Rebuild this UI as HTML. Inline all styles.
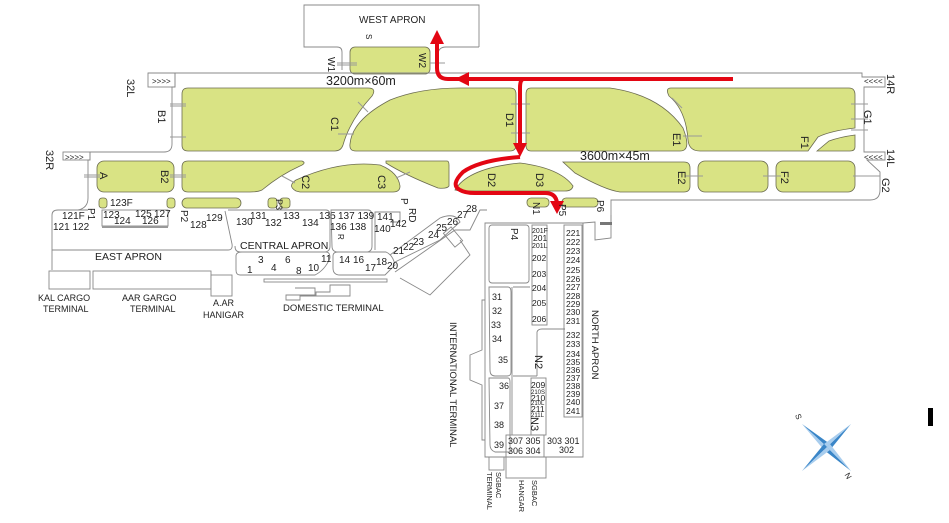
<!DOCTYPE html>
<html><head><meta charset="utf-8"><style>
html,body{margin:0;padding:0;background:#fff}
svg{display:block}
text{font-family:"Liberation Sans",sans-serif;fill:#222}
.g{fill:#d9e384;stroke:#6b6b50;stroke-width:.8}
.o{fill:none;stroke:#888;stroke-width:.9}
.w{fill:#fff;stroke:#888;stroke-width:.9}
.r{fill:none;stroke:#e30613;stroke-width:4}
.rf{fill:#e30613}
.h{stroke:#999;stroke-width:1}
</style></head><body>
<svg width="949" height="523" viewBox="0 0 949 523" xmlns="http://www.w3.org/2000/svg" font-size="10">
<!-- West apron -->
<path class="o" d="M342,70 V52 Q342,47 337,47 H304 V5 H479 V47"/>
<text x="359" y="23" font-size="10">WEST APRON</text>
<text transform="translate(366,34) rotate(90)" font-size="8">S</text>
<rect class="g" x="350" y="47" width="80" height="27" rx="5"/>
<path class="o" d="M479,47 H446 Q438,47 438,55"/>
<text transform="translate(328,57) rotate(90)">W1</text>
<text transform="translate(419,53) rotate(90)">W2</text>
<line class="h" x1="337" y1="63" x2="357" y2="63"/><line class="h" x1="337" y1="65" x2="357" y2="65"/>
<line class="h" x1="430" y1="63" x2="445" y2="63"/>

<!-- runway outline -->
<path class="o" d="M175,73 H862 V77 H885 V87 H864 V152 H885 V160 H867 L880,172 V190 Q880,200 870,200 H611 V223"/>
<path class="o" d="M148,73 H175 V87 H172 V144 Q172,152 164,152 H90 V160 H88 V198 Q88,208 78,210"/>
<rect class="o" x="148" y="73" width="27" height="14"/>
<text x="152" y="84" font-size="8" fill="#666">&gt;&gt;&gt;&gt;</text>
<rect class="o" x="63" y="152" width="27" height="8"/>
<text x="65" y="160" font-size="8" fill="#666">&gt;&gt;&gt;&gt;</text>
<text x="864" y="84" font-size="8" fill="#666">&lt;&lt;&lt;&lt;</text>
<text x="864" y="160" font-size="8" fill="#666">&lt;&lt;&lt;&lt;</text>
<text transform="translate(127,79) rotate(90)" font-size="11">32L</text>
<text transform="translate(46,150) rotate(90)" font-size="11">32R</text>
<text transform="translate(887,74) rotate(90)" font-size="11">14R</text>
<text transform="translate(887,149) rotate(90)" font-size="11">14L</text>
<text transform="translate(882,178) rotate(90)" font-size="11">G2</text>

<!-- green blocks upper -->
<path class="g" d="M188,88 H368 Q377,88 372,96 Q350,120 343,145 Q341,151 335,151 H188 Q182,151 182,145 V94 Q182,88 188,88 Z"/>
<path class="g" d="M350,144 Q352,120 390,100 Q420,88 460,88 H510 Q516,88 516,94 V145 Q516,151 510,151 H356 Q349,151 350,144 Z"/>
<path class="g" d="M531,88 H610 Q660,95 683,128 Q692,151 680,151 H531 Q526,151 526,145 V94 Q526,88 531,88 Z"/>
<path class="g" d="M671,88 H849 Q855,88 855,95 V128 Q830,131 818,137 L808,151 H700 Q689,151 688,140 Q686,110 669,96 Q665,88 671,88 Z"/>
<path class="g" d="M817,151 L829,141 Q840,137 855,135 V147 Q855,151 850,151 Z"/>
<!-- green lower -->
<rect class="g" x="97" y="161" width="77" height="31" rx="7"/>
<path class="g" d="M188,161 H302 Q307,163 300,166 Q280,175 262,190 Q258,192 250,192 H188 Q182,192 182,186 V167 Q182,161 188,161 Z"/>
<path class="g" d="M296,191 Q287,186 296,180 Q340,160 380,165 Q398,172 400,186 Q400,192 393,192 H300 Z"/>
<path class="g" d="M386,161 H447 Q449,161 449,165 V186 Q447,189 438,188 Q405,175 386,163 Z"/>
<path class="g" d="M455,190 Q468,168 520,163 Q560,168 573,186 Q572,191 565,191 H460 Z"/>
<path class="g" d="M563,162 H684 Q690,162 690,168 V186 Q690,192 684,192 H620 Q605,190 575,173 Z"/>
<rect class="g" x="698" y="161" width="70" height="31" rx="7"/>
<rect class="g" x="776" y="161" width="79" height="31" rx="7"/>
<rect class="g" x="99" y="198" width="8" height="10" rx="3"/>
<rect class="g" x="167" y="198" width="8" height="10" rx="3"/>
<rect class="g" x="182" y="198" width="59" height="10" rx="5"/>
<rect class="g" x="268" y="198" width="9" height="10" rx="3"/>
<rect class="g" x="280" y="198" width="10" height="10" rx="3"/>
<rect class="g" x="527" y="198" width="22" height="9" rx="4"/>
<rect class="g" x="562" y="198" width="36" height="9" rx="4"/>

<!-- hatch marks -->
<g class="h">
<line x1="170" y1="104" x2="186" y2="104"/><line x1="170" y1="106" x2="186" y2="106"/>
<line x1="170" y1="137" x2="186" y2="137"/>
<line x1="84" y1="175" x2="100" y2="175"/><line x1="84" y1="177" x2="100" y2="177"/>
<line x1="170" y1="175" x2="186" y2="175"/><line x1="170" y1="177" x2="186" y2="177"/>
<line x1="511" y1="104" x2="530" y2="104"/><line x1="511" y1="133" x2="530" y2="133"/>
<line x1="683" y1="136" x2="702" y2="136"/>
<line x1="851" y1="104" x2="868" y2="104"/><line x1="851" y1="119" x2="868" y2="119"/><line x1="851" y1="130" x2="868" y2="130"/>
<line x1="685" y1="176" x2="703" y2="176"/><line x1="763" y1="176" x2="781" y2="176"/>
<line x1="853" y1="176" x2="880" y2="176"/>
<line x1="338" y1="134" x2="354" y2="134"/>
<line x1="358" y1="102" x2="368" y2="112"/><line x1="672" y1="98" x2="682" y2="108"/>
<line x1="282" y1="176" x2="295" y2="183"/><line x1="396" y1="178" x2="410" y2="172"/>
</g>

<!-- taxiway labels -->
<text transform="translate(158,110) rotate(90)" font-size="11">B1</text>
<text transform="translate(331,117) rotate(90)" font-size="11">C1</text>
<text transform="translate(506,113) rotate(90)" font-size="11">D1</text>
<text transform="translate(673,133) rotate(90)" font-size="11">E1</text>
<text transform="translate(801,136) rotate(90)" font-size="11">F1</text>
<text transform="translate(864,110) rotate(90)" font-size="11">G1</text>
<text transform="translate(100,172) rotate(90)" font-size="11">A</text>
<text transform="translate(161,170) rotate(90)" font-size="11">B2</text>
<text transform="translate(302,175) rotate(90)" font-size="11">C2</text>
<text transform="translate(378,175) rotate(90)" font-size="11">C3</text>
<text transform="translate(488,173) rotate(90)" font-size="11">D2</text>
<text transform="translate(536,173) rotate(90)" font-size="11">D3</text>
<text transform="translate(678,171) rotate(90)" font-size="11">E2</text>
<text transform="translate(781,171) rotate(90)" font-size="11">F2</text>
<text x="326" y="85" font-size="12.5">3200m×60m</text>
<text x="580" y="160" font-size="12.5">3600m×45m</text>

<!-- red route -->
<path class="r" d="M733,79 H448 Q437,79 437,68 V44"/>
<polygon class="rf" points="430,44 444,44 437,30"/>
<polygon class="rf" points="469,72 469,86 455,79"/>
<path class="r" d="M524,79 Q520,79 520,88 V145"/>
<polygon class="rf" points="513,143 527,143 520,157"/>
<path class="r" d="M520,157 Q480,160 463,172 Q450,185 460,190 Q465,193 475,193 H545 Q556,193 557,203"/>
<polygon class="rf" points="550,201 564,201 557,214"/>

<!-- east / central aprons -->
<path class="o" d="M52,270 V215 Q52,210 58,210 H88"/>
<path class="o" d="M52,250 H228 Q233,250 232,244 L225,211"/>
<rect class="w" x="102" y="210" width="66" height="16"/>
<line x1="102" y1="227" x2="168" y2="227" stroke="#999" stroke-width="2"/>
<text transform="translate(88,208) rotate(90)">P1</text>
<text x="110" y="206">123F</text>
<text x="62" y="219">121F</text>
<text x="53" y="230">121 122</text>
<text x="103" y="218">123</text><text x="135" y="217">125</text><text x="154" y="217">127</text>
<text x="114" y="224">124</text><text x="142" y="224">126</text>
<text transform="translate(181,210) rotate(90)">P2</text>
<text x="190" y="228">128</text><text x="206" y="221">129</text>
<path class="o" d="M228,210 H326 Q330,210 330,216 V246 Q330,252 324,252 H240 Q235,252 235,246"/>
<text x="236" y="225">130</text><text x="250" y="219">131</text><text x="265" y="226">132</text>
<text x="283" y="219">133</text><text x="302" y="226">134</text><text x="319" y="219">135</text>
<text transform="translate(276,199) rotate(90)" font-size="9">P3</text>
<text x="240" y="249" font-size="10.5">CENTRAL APRON</text>
<path class="o" d="M331,210 H368 Q372,210 372,216 V246 Q372,252 366,252 H338 Q332,252 332,246 Z"/>
<text x="338" y="219">137 139</text><text x="330" y="230">136 138</text>
<text transform="translate(338,234) rotate(90)" font-size="8">R</text>
<path class="o" d="M375,250 V212 H400 V222 H390"/>
<text x="377" y="220">141</text><text x="374" y="232">140</text><text x="390" y="227">142</text>
<text transform="translate(401,198) rotate(90)">P</text>
<text transform="translate(409,208) rotate(90)">RD</text>
<text x="95" y="260" font-size="10.5">EAST APRON</text>
<rect class="w" x="49" y="271" width="41" height="18"/>
<rect class="w" x="93" y="271" width="118" height="18"/>
<rect class="w" x="211" y="275" width="21" height="21"/>
<text x="38" y="301" font-size="9">KAL CARGO</text><text x="43" y="312" font-size="9">TERMINAL</text>
<text x="122" y="301" font-size="9">AAR GARGO</text><text x="130" y="312" font-size="9">TERMINAL</text>
<text x="213" y="306" font-size="9">A.AR</text><text x="203" y="318" font-size="9">HANIGAR</text>
<!-- domestic -->
<path class="o" d="M236,256 Q236,252 242,252 H326 Q330,252 330,258 Q325,270 315,275 H240 Q236,275 236,270 Z"/>
<path class="o" d="M333,256 Q333,252 338,252 H386 Q393,255 395,265 L385,275 H340 Q333,275 333,268 Z"/>
<rect class="o" x="264" y="279" width="123" height="3"/>
<path class="o" d="M295,288 H315 V296 H300 V300 H286 V295 H316 V292 H330 V285 H350 V296 H315"/>
<text x="258" y="263">3</text><text x="285" y="263">6</text><text x="321" y="262">11</text>
<text x="247" y="273">1</text><text x="271" y="271">4</text><text x="296" y="274">8</text><text x="308" y="271">10</text>
<text x="339" y="263">14</text><text x="353" y="263">16</text><text x="365" y="271">17</text><text x="376" y="265">18</text><text x="387" y="269">20</text>
<text x="283" y="311" font-size="9.5">DOMESTIC TERMINAL</text>
<!-- ramp to international -->
<path class="o" d="M390,255 L440,218 Q455,212 460,222 L440,240 L395,262"/>
<path class="o" d="M395,272 L455,230 L470,230 L480,210 L487,210"/>
<path class="o" d="M400,278 L430,295 L470,255 L460,240"/>
<rect class="o" x="448" y="228" width="10" height="18" transform="rotate(-40 453 237)"/>
<text x="393" y="254">21</text><text x="403" y="250">22</text><text x="413" y="245">23</text>
<text x="428" y="238">24</text><text x="436" y="231">25</text><text x="447" y="225">26</text>
<text x="457" y="218">27</text><text x="466" y="212">28</text>

<!-- north apron -->
<path class="o" d="M485,223 H583 V457 H485 Z"/>
<path class="o" d="M611,215 V238 L595,240 V222 L583,223"/>
<rect x="600" y="222" width="12" height="3" fill="#777"/>
<rect class="o" x="489" y="225" width="40" height="58" rx="3"/>
<rect class="o" x="532" y="225" width="15" height="100"/>
<rect class="o" x="564" y="225" width="18" height="192"/>
<path class="o" d="M489,287 H508 Q511,287 511,292 V372 Q511,376 507,376 H495 Q490,376 490,370 Z"/>
<path class="o" d="M513,287 H530 M513,376 H537 M537,376 V332 Q538,329 542,329 H565"/>
<line class="o" x1="512" y1="287" x2="512" y2="435"/>
<path class="o" d="M489,378 H508 Q510,378 510,382 V452 H495 Q490,450 490,445 Z"/>
<rect class="o" x="531" y="378" width="15" height="57"/>
<rect class="o" x="506" y="435" width="38" height="22"/>
<rect class="o" x="489" y="457" width="15" height="13"/>
<rect class="o" x="506" y="457" width="40" height="21"/>
<path class="o" d="M485,300 H482 V350 L470,355 V380 L482,385 V440 H485"/>
<text transform="translate(450,322) rotate(90)" font-size="9.5">INTERNATIONAL TERMINAL</text>
<text transform="translate(592,310) rotate(90)" font-size="9.5">NORTH APRON</text>
<text transform="translate(533,202) rotate(90)">N1</text>
<text transform="translate(559,204) rotate(90)">P5</text>
<text transform="translate(597,200) rotate(90)">P6</text>
<text transform="translate(511,228) rotate(90)">P4</text>
<text transform="translate(535,355) rotate(90)" font-size="11">N2</text>
<text transform="translate(531,417) rotate(90)" font-size="11">N3</text>
<g font-size="8.5">
<text x="532" y="233" font-size="7">201F</text><text x="533" y="241">201</text><text x="532" y="248" font-size="7">201L</text>
<text x="532" y="261">202</text><text x="532" y="277">203</text><text x="532" y="291">204</text><text x="532" y="306">205</text><text x="532" y="322">206</text>
<text x="566" y="236">221</text><text x="566" y="245">222</text><text x="566" y="254">223</text><text x="566" y="263">224</text><text x="566" y="273">225</text>
<text x="566" y="282">226</text><text x="566" y="290">227</text><text x="566" y="299">228</text><text x="566" y="307">229</text><text x="566" y="315">230</text><text x="566" y="324">231</text>
<text x="566" y="338">232</text><text x="566" y="347">233</text><text x="566" y="357">234</text><text x="566" y="365">235</text><text x="566" y="373">236</text>
<text x="566" y="381">237</text><text x="566" y="389">238</text><text x="566" y="397">239</text><text x="566" y="405">240</text><text x="566" y="414">241</text>
<text x="531" y="388">209</text><text x="531" y="394" font-size="6">210S</text><text x="531" y="401">210</text><text x="531" y="405" font-size="6">210L</text><text x="531" y="412">211</text><text x="531" y="417" font-size="6">211L</text>
</g>
<text x="492" y="300" font-size="9">31</text><text x="492" y="314" font-size="9">32</text><text x="491" y="328" font-size="9">33</text>
<text x="492" y="342" font-size="9">34</text><text x="498" y="363" font-size="9">35</text><text x="499" y="389" font-size="9">36</text>
<text x="494" y="409" font-size="9">37</text><text x="494" y="428" font-size="9">38</text><text x="494" y="448" font-size="9">39</text>
<text x="508" y="444" font-size="9">307 305</text><text x="508" y="454" font-size="9">306 304</text>
<text x="547" y="444" font-size="9">303 301</text><text x="559" y="453" font-size="9">302</text>
<text transform="translate(487,472) rotate(90)" font-size="7.5">TERMINAL</text>
<text transform="translate(496,472) rotate(90)" font-size="7.5">SGBAC</text>
<text transform="translate(519,480) rotate(90)" font-size="7.5">HANGAR</text>
<text transform="translate(532,480) rotate(90)" font-size="7.5">SGBAC</text>

<!-- compass -->
<g transform="translate(827,447)">
<polygon points="-25,-23 3,-3 0,0" fill="#3a86c8"/><polygon points="-25,-23 -3,3 0,0" fill="#a8cdee"/>
<polygon points="24,-23 3,3 0,0" fill="#3a86c8"/><polygon points="24,-23 -3,-3 0,0" fill="#a8cdee"/>
<polygon points="24,24 -3,3 0,0" fill="#3a86c8"/><polygon points="24,24 3,-3 0,0" fill="#a8cdee"/>
<polygon points="-25,24 -3,-3 0,0" fill="#3a86c8"/><polygon points="-25,24 3,3 0,0" fill="#a8cdee"/>
</g>
<text transform="translate(795,415) rotate(70)" font-size="8">S</text>
<text transform="translate(852,477) rotate(-120)" font-size="8">N</text>
<rect x="928" y="408" width="5" height="18" fill="#000"/>
</svg>
</body></html>
